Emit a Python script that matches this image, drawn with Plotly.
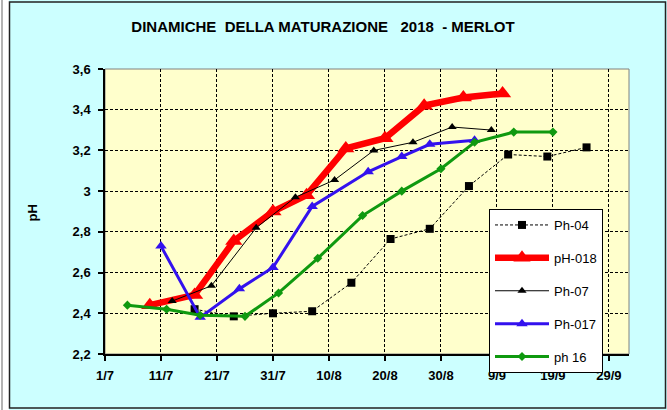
import plotly.graph_objects as go

# ---------------- data ----------------
tick_dates = ["2018-07-01", "2018-07-11", "2018-07-21", "2018-07-31", "2018-08-10",
              "2018-08-20", "2018-08-30", "2018-09-09", "2018-09-19", "2018-09-29"]
tick_labels = ["1/7", "11/7", "21/7", "31/7", "10/8", "20/8", "30/8", "9/9", "19/9", "29/9"]
y_ticks = [2.2, 2.4, 2.6, 2.8, 3.0, 3.2, 3.4, 3.6]
y_labels = ["2,2", "2,4", "2,6", "2,8", "3", "3,2", "3,4", "3,6"]

ph04_dates = ["2018-07-17", "2018-07-24", "2018-07-31", "2018-08-07", "2018-08-14", "2018-08-21",
              "2018-08-28", "2018-09-04", "2018-09-11", "2018-09-18", "2018-09-25"]
ph04_vals = [2.42, 2.385, 2.40, 2.41, 2.55, 2.765, 2.815, 3.025, 3.18, 3.17, 3.215]

ph018_dates = ["2018-07-09", "2018-07-17", "2018-07-24", "2018-07-31", "2018-08-06",
               "2018-08-13", "2018-08-20", "2018-08-27", "2018-09-03", "2018-09-10"]
ph018_vals = [2.44, 2.49, 2.755, 2.90, 2.98, 3.21, 3.26, 3.42, 3.46, 3.48]

ph07_dates = ["2018-07-13", "2018-07-20", "2018-07-28", "2018-08-04", "2018-08-11",
              "2018-08-18", "2018-08-25", "2018-09-01", "2018-09-08"]
ph07_vals = [2.46, 2.535, 2.82, 2.97, 3.055, 3.20, 3.24, 3.315, 3.30]

ph017_dates = ["2018-07-11", "2018-07-18", "2018-07-25", "2018-07-31", "2018-08-07",
               "2018-08-17", "2018-08-23", "2018-08-28", "2018-09-05"]
ph017_vals = [2.73, 2.38, 2.52, 2.625, 2.925, 3.095, 3.17, 3.23, 3.25]

ph16_dates = ["2018-07-05", "2018-07-12", "2018-07-18", "2018-07-26", "2018-08-01", "2018-08-08",
              "2018-08-16", "2018-08-23", "2018-08-30", "2018-09-05", "2018-09-12", "2018-09-19"]
ph16_vals = [2.44, 2.42, 2.39, 2.385, 2.50, 2.67, 2.88, 3.00, 3.11, 3.24, 3.29, 3.29]

# ---------------- layout geometry (pixels) ----------------
W, H = 667, 410
PL, PR, PT, PB = 105, 629, 69, 354


def px(xp):
    return (xp - PL) / (PR - PL)


def py(yp):
    return (PB - yp) / (PB - PT)


FONT = "Liberation Sans, Arial, sans-serif"

fig = go.Figure()

fig.add_trace(go.Scatter(
    x=ph04_dates, y=ph04_vals, name="Ph-04", mode="lines+markers", legendgroup="a",
    line=dict(color="black", width=1, dash="3px,2px"),
    marker=dict(symbol="square", size=8, color="black")))
fig.add_trace(go.Scatter(
    x=ph018_dates, y=ph018_vals, name="pH-018", mode="lines+markers", legendgroup="b",
    line=dict(color="#FF0000", width=6.5),
    marker=dict(symbol="triangle-up", size=15, color="#FF0000")))
fig.add_trace(go.Scatter(
    x=ph07_dates, y=ph07_vals, name="Ph-07", mode="lines+markers", legendgroup="c",
    line=dict(color="black", width=1),
    marker=dict(symbol="triangle-up", size=8, color="black")))
fig.add_trace(go.Scatter(
    x=ph017_dates, y=ph017_vals, name="Ph-017", mode="lines+markers", legendgroup="d",
    line=dict(color="#3311EE", width=3),
    marker=dict(symbol="triangle-up", size=10, color="#3311EE")))
fig.add_trace(go.Scatter(
    x=ph16_dates, y=ph16_vals, name="ph 16", mode="lines+markers", legendgroup="e",
    line=dict(color="#0F990F", width=3),
    marker=dict(symbol="diamond", size=7, color="#0F990F")))

shapes = [
    # white strip at far left and thin grey line
    dict(type="rect", xref="paper", yref="paper", x0=px(0), x1=px(9), y0=py(0), y1=py(H),
         fillcolor="white", line=dict(width=0), layer="below"),
    dict(type="line", xref="paper", yref="paper", x0=px(2), x1=px(2), y0=py(0), y1=py(H),
         line=dict(color="#9A9A9A", width=1.5), layer="below"),
    # outer chart border
    dict(type="rect", xref="paper", yref="paper", x0=px(9.5), x1=px(665.5), y0=py(2), y1=py(408),
         line=dict(color="#222222", width=1.5), layer="below"),
    # plot area border
    dict(type="rect", xref="paper", yref="paper", x0=0, x1=1, y0=0, y1=1,
         line=dict(color="#808080", width=1), layer="below"),
]

fig.update_layout(
    width=W, height=H,
    margin=dict(l=PL, r=W - PR, t=PT, b=H - PB),
    paper_bgcolor="#CCFFFF",
    plot_bgcolor="#FFFFCC",
    font=dict(family=FONT, color="black"),
    showlegend=True,
    shapes=shapes,
    title=dict(
        text="<b>DINAMICHE&nbsp; DELLA MATURAZIONE&nbsp;&nbsp; 2018&nbsp; - MERLOT</b>",
        x=323 / W, xanchor="center", y=1 - 27 / H, yanchor="middle",
        font=dict(size=15, family=FONT, color="black")),
    legend=dict(
        x=px(489), y=py(209), xanchor="left", yanchor="top",
        bgcolor="white", bordercolor="black", borderwidth=1,
        font=dict(size=13, family=FONT, color="black"),
        tracegroupgap=13, itemwidth=54, traceorder="grouped"),
    annotations=[dict(
        text="<b>pH</b>", xref="paper", yref="paper", x=px(31.5), y=py(213),
        textangle=-90, showarrow=False, xanchor="center", yanchor="middle",
        font=dict(size=13, family=FONT, color="black"))],
)

fig.update_xaxes(
    type="date", range=["2018-07-01", "2018-10-02 14:00"],
    tickmode="array", tickvals=tick_dates, ticktext=tick_labels,
    showgrid=True, gridcolor="black", gridwidth=1, griddash="3px,2px",
    showline=True, linecolor="black", linewidth=1.5,
    ticks="outside", ticklen=5, tickcolor="black", tickwidth=1.5,
    tickfont=dict(size=13, family=FONT, color="black", weight="bold"),
    ticklabelstandoff=4, zeroline=False)

fig.update_yaxes(
    range=[2.2, 3.6], tickmode="array", tickvals=y_ticks, ticktext=y_labels,
    showgrid=True, gridcolor="black", gridwidth=1, griddash="3px,2px",
    showline=True, linecolor="black", linewidth=1.5,
    ticks="outside", ticklen=5, tickcolor="black", tickwidth=1.5,
    tickfont=dict(size=13, family=FONT, color="black", weight="bold"),
    ticklabelstandoff=5, zeroline=False)

fig.write_html("out.html",
               config={"displayModeBar": False},
               post_script="document.body.style.margin='0';document.body.style.overflow='hidden';")
